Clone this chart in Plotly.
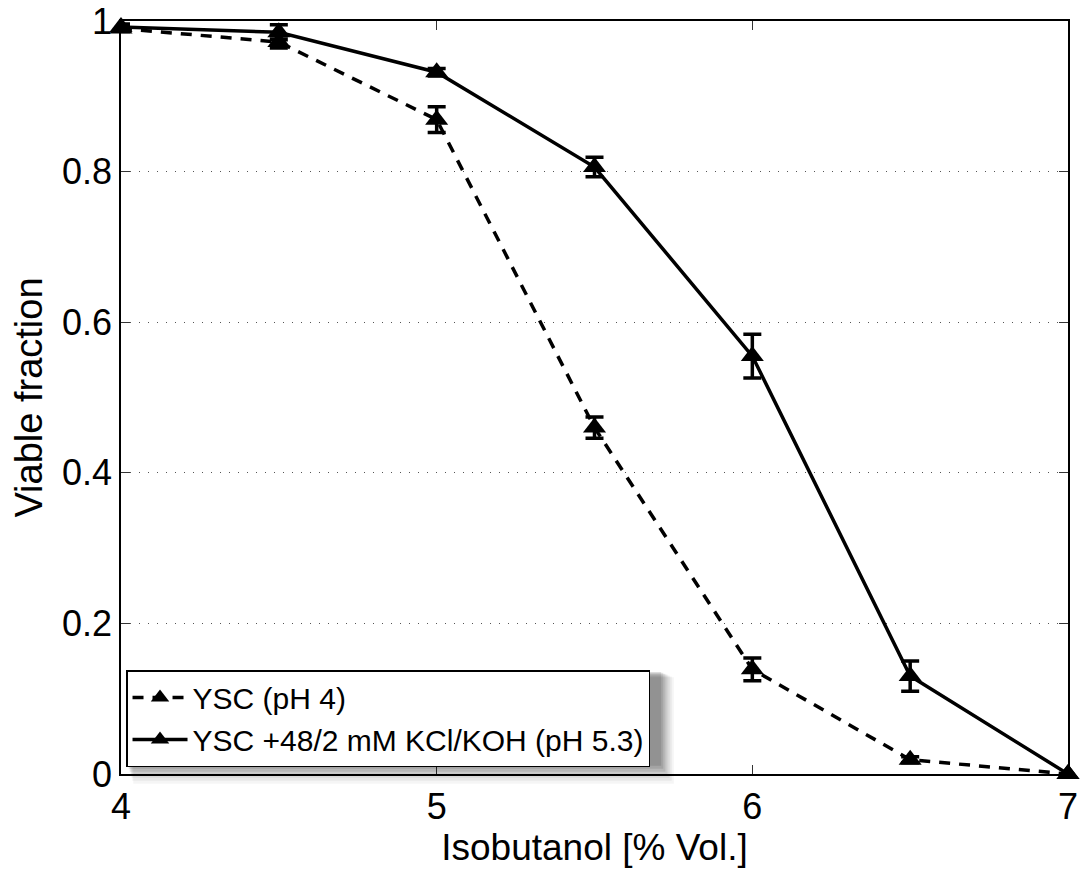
import plotly.graph_objects as go

x_vals = [4, 4.5, 5, 5.5, 6, 6.5, 7]
ph4_y = [0.990, 0.972, 0.869, 0.460, 0.139, 0.019, 0.0]
ph4_err = [0.004, 0.008, 0.017, 0.014, 0.015, 0.004, 0.0]
ph53_y = [0.992, 0.985, 0.932, 0.806, 0.555, 0.130, 0.0]
ph53_err = [0.004, 0.010, 0.005, 0.013, 0.029, 0.020, 0.0]

names = ["YSC (pH 4)", "YSC +48/2 mM KCl/KOH (pH 5.3)"]
x_ticks = [4, 5, 6, 7]
y_ticks = [0, 0.2, 0.4, 0.6, 0.8, 1]
y_tick_text = ["0", "0.2", "0.4", "0.6", "0.8", "1"]

FONT = "Liberation Sans, Arial, Helvetica, sans-serif"

fig = go.Figure()
fig.add_trace(go.Scatter(
    x=x_vals, y=ph4_y, name=names[0], mode="lines+markers",
    line=dict(color="black", width=3.5, dash="11px,9px"),
    marker=dict(symbol="triangle-up", size=20, color="black"),
    error_y=dict(type="data", array=ph4_err, color="black", thickness=3.5, width=9),
    cliponaxis=False,
))
fig.add_trace(go.Scatter(
    x=x_vals, y=ph53_y, name=names[1], mode="lines+markers",
    line=dict(color="black", width=3.5),
    marker=dict(symbol="triangle-up", size=20, color="black"),
    error_y=dict(type="data", array=ph53_err, color="black", thickness=3.5, width=9),
    cliponaxis=False,
))

# legend drop shadow (soft approximation)
lx0, ly_top, lx1, ly_bot = 0.0053, 0.138, 0.566, 0.019
shapes = []
for d, op in [(24, 0.04), (21, 0.05), (18, 0.06), (15, 0.07), (12, 0.09), (9, 0.10), (6, 0.11)]:
    dx = d / 947.0
    dy = d / 753.0
    shapes.append(dict(
        type="rect", xref="paper", yref="paper",
        x0=lx0 + dx * 0.3, x1=lx1 + dx * 0.7, y0=ly_bot - dy, y1=ly_top - dy * 0.3,
        fillcolor="rgba(0,0,0,%.2f)" % op, line=dict(width=0), layer="above",
    ))

fig.update_layout(
    width=1082, height=872,
    margin=dict(l=121, r=14, t=21, b=98),
    paper_bgcolor="white", plot_bgcolor="white",
    font=dict(family=FONT, size=36, color="black"),
    showlegend=True,
    legend=dict(
        x=lx0, y=ly_top, xanchor="left", yanchor="top",
        bgcolor="white", bordercolor="black", borderwidth=1.5,
        font=dict(family=FONT, size=30, color="black"),
        tracegroupgap=0, itemwidth=55,
    ),
    shapes=shapes,
    xaxis=dict(
        range=[4, 7], tickvals=x_ticks, ticktext=[str(t) for t in x_ticks],
        ticks="inside", ticklen=9, tickwidth=1, tickcolor="#333",
        showline=True, linecolor="black", linewidth=1.5, mirror="ticks",
        showgrid=False, zeroline=False, automargin=False,
        tickfont=dict(family=FONT, size=36),
        title=dict(text="Isobutanol [% Vol.]", font=dict(family=FONT, size=37), standoff=0),
    ),
    yaxis=dict(
        range=[0, 1], tickvals=y_ticks, ticktext=y_tick_text,
        ticks="inside", ticklen=9, tickwidth=1, tickcolor="#333",
        showline=True, linecolor="black", linewidth=1.5, mirror="ticks",
        showgrid=True, gridcolor="#555", griddash="1px,8px", gridwidth=1,
        zeroline=False, automargin=False,
        tickfont=dict(family=FONT, size=36),
        title=dict(text="Viable fraction", font=dict(family=FONT, size=38), standoff=8),
    ),
)

fig.write_html("out.html")
